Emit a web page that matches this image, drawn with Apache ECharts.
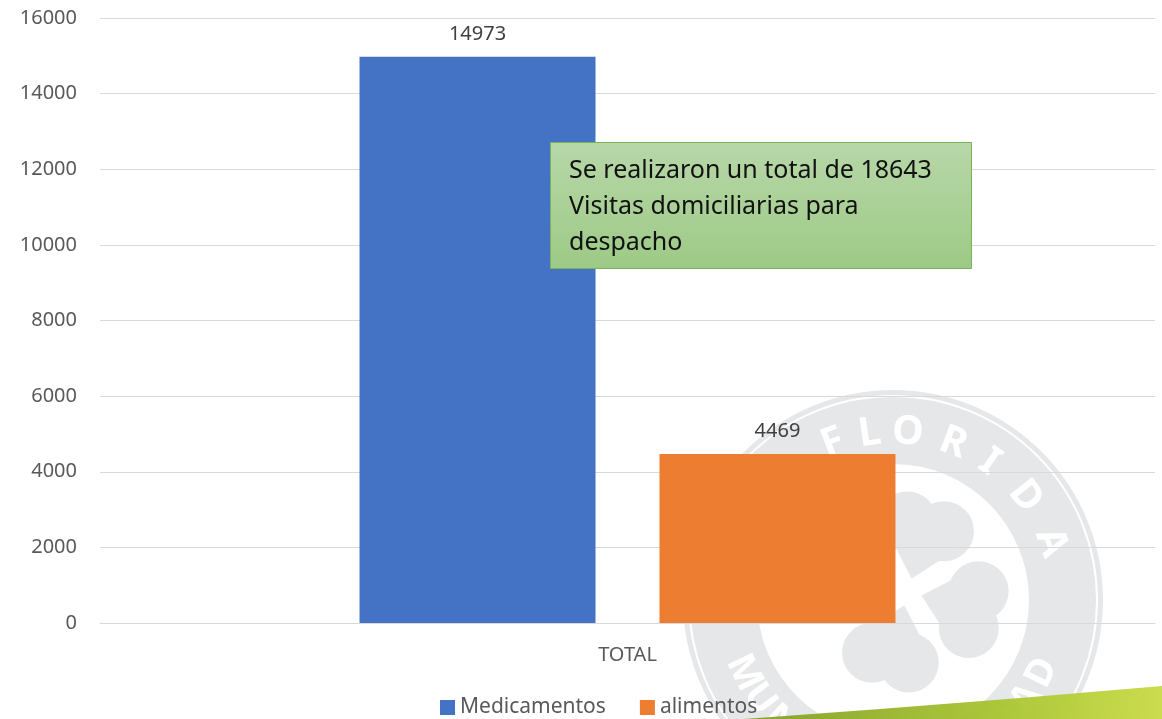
<!DOCTYPE html>
<html><head><meta charset="utf-8">
<script src="https://cdn.jsdelivr.net/npm/echarts@6/dist/echarts.min.js"></script>
<style>html,body{margin:0;padding:0;background:#fff}#c{width:1162px;height:719px}</style>
</head><body><div id="c"></div>
<script>
const categories = ['TOTAL'];
const seriesNames = ['Medicamentos', 'alimentos'];
const medicamentos = [14973];
const alimentos = [4469];
const yMin = 0, yMax = 16000, yInterval = 2000;
const noteLines = ['Se realizaron un total de 18643', 'Visitas domiciliarias para', 'despacho'];
const sealTop = 'FLORIDA';
const sealBottom = 'MUNICIPALIDAD';

const FONT = '"Noto Sans", "DejaVu Sans", sans-serif';
const chart = echarts.init(document.getElementById('c'), null, {renderer: 'canvas'});

// decorative watermark seal
const cx = 893, cy = 600;
const WM = '#e6e7e9';
const wm = [];
wm.push({type: 'ring', shape: {cx: cx, cy: cy, r: 210, r0: 136}, style: {fill: WM}, z: -10, silent: true});
wm.push({type: 'circle', shape: {cx: cx, cy: cy, r: 204}, style: {fill: null, stroke: '#ffffff', lineWidth: 2}, z: -9, silent: true});
const topAngles = [-21, -8, 5, 21, 35, 52, 70];
sealTop.split('').forEach((ch, i) => {
  const a = topAngles[i] * Math.PI / 180, r = 168;
  wm.push({type: 'text', x: cx + r * Math.sin(a), y: cy - r * Math.cos(a), rotation: -a,
    style: {text: ch, font: 'bold 40px ' + FONT, fill: '#ffffff', align: 'center', verticalAlign: 'middle'}, z: -8, silent: true});
});
const nb = sealBottom.length;
sealBottom.split('').forEach((ch, i) => {
  const d = -64 + i * (128 / (nb - 1));
  const a = d * Math.PI / 180, r = 166;
  wm.push({type: 'text', x: cx + r * Math.sin(a), y: cy + r * Math.cos(a), rotation: a,
    style: {text: ch, font: 'bold 38px ' + FONT, fill: '#ffffff', align: 'center', verticalAlign: 'middle'}, z: -8, silent: true});
});
const ccx = 908, ccy = 592;
[15, 105, 195, 285].forEach(deg => {
  const a = deg * Math.PI / 180;
  const lx = ccx + 60 * Math.sin(a), ly = ccy - 60 * Math.cos(a);
  const px = Math.cos(a), py = Math.sin(a);
  wm.push({type: 'circle', shape: {cx: lx + 19 * px + 8 * Math.sin(a), cy: ly + 19 * py - 8 * Math.cos(a), r: 30}, style: {fill: WM}, z: -8, silent: true});
  wm.push({type: 'circle', shape: {cx: lx - 19 * px + 8 * Math.sin(a), cy: ly - 19 * py - 8 * Math.cos(a), r: 30}, style: {fill: WM}, z: -8, silent: true});
  wm.push({type: 'polygon', shape: {points: [
    [lx + 42 * px, ly + 42 * py], [lx - 42 * px, ly - 42 * py],
    [ccx + 14 * Math.sin(a), ccy - 14 * Math.cos(a)]]}, style: {fill: WM}, z: -8, silent: true});
});
[60, 150].forEach(deg => {
  const a = deg * Math.PI / 180;
  wm.push({type: 'line', shape: {x1: ccx - 75 * Math.sin(a), y1: ccy + 75 * Math.cos(a), x2: ccx + 75 * Math.sin(a), y2: ccy - 75 * Math.cos(a)},
    style: {stroke: '#ffffff', lineWidth: 6}, z: -7, silent: true});
});
wm.push({type: 'circle', shape: {cx: ccx, cy: ccy, r: 11}, style: {fill: '#ffffff'}, z: -7, silent: true});

const deco = [
  {type: 'polygon', shape: {points: [[744, 719], [880, 709], [1020, 698], [1162, 686], [1162, 719]]},
    style: {fill: {type: 'linear', x: 0, y: 0, x2: 1, y2: 0, colorStops: [{offset: 0, color: '#819f22'}, {offset: 0.6, color: '#a8c431'}, {offset: 1, color: '#c8da44'}]}, opacity: 0.95},
    z: 50, silent: true},
  {type: 'rect', shape: {x: 550.5, y: 142.5, width: 421, height: 126},
    style: {fill: {type: 'linear', x: 0, y: 0, x2: 0, y2: 1, colorStops: [{offset: 0, color: '#b7d7a8'}, {offset: 1, color: '#9dca86'}]}, stroke: '#7cb35a', lineWidth: 1},
    z: 100},
  {type: 'text', x: 569, y: 153,
    style: {text: noteLines.join('\n'), font: '25px ' + FONT, lineHeight: 36, fill: '#111111', align: 'left', verticalAlign: 'top'},
    z: 101}
];

const option = {
  backgroundColor: '#ffffff',
  animation: false,
  textStyle: {fontFamily: FONT},
  grid: {left: 100, right: 7, top: 18, bottom: 96, containLabel: false},
  legend: {
    data: seriesNames, left: 440, top: 697, padding: 0,
    itemWidth: 15, itemHeight: 15, itemGap: 34, icon: 'rect',
    textStyle: {fontSize: 21, color: '#595959', fontFamily: FONT}
  },
  xAxis: {
    type: 'category', data: categories,
    axisLine: {show: true, lineStyle: {color: '#d9d9d9', width: 1}},
    axisTick: {show: false},
    axisLabel: {fontSize: 20, color: '#595959', margin: 22, fontFamily: FONT}
  },
  yAxis: {
    type: 'value', min: yMin, max: yMax, interval: yInterval,
    axisLine: {show: false}, axisTick: {show: false},
    axisLabel: {fontSize: 20, color: '#595959', margin: 23, fontFamily: FONT, formatter: v => String(v)},
    splitLine: {lineStyle: {color: '#d9d9d9', width: 1}}
  },
  graphic: {elements: wm.concat(deco)},
  series: [
    {name: seriesNames[0], type: 'bar', data: medicamentos, barWidth: 236, barGap: '27.1%',
      itemStyle: {color: '#4472c4'},
      label: {show: true, position: 'top', distance: 13, fontSize: 20, color: '#404040', fontFamily: FONT}},
    {name: seriesNames[1], type: 'bar', data: alimentos, barWidth: 236, barGap: '27.1%',
      itemStyle: {color: '#ed7d31'},
      label: {show: true, position: 'top', distance: 13, fontSize: 20, color: '#404040', fontFamily: FONT}}
  ]
};
chart.setOption(option);
</script>
</body></html>
